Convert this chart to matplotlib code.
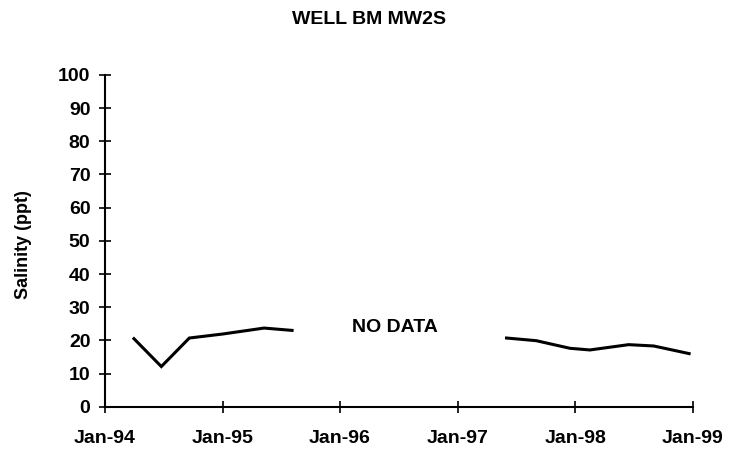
"""
Salinity at well BM MW2S, 1994-1999
"""
import numpy as np
import pandas as pd
import matplotlib
matplotlib.use("Agg")
import matplotlib.pyplot as plt

# ==========================
# dados
# ==========================
dates_a = ["1994-04-01", "1994-06-25", "1994-09-20", "1995-01-01", "1995-05-10", "1995-08-05"]
salinity_a = [20.5, 12.1, 20.7, 21.9, 23.7, 23.0]

dates_b = ["1997-06-01", "1997-09-01", "1997-12-15", "1998-02-15", "1998-06-15", "1998-09-01", "1998-12-20"]
salinity_b = [20.7, 19.9, 17.6, 17.1, 18.7, 18.3, 16.0]

x_ticks = ["1994-01-01", "1995-01-01", "1996-01-01", "1997-01-01", "1998-01-01", "1999-01-01"]
x_labels = ["Jan-94", "Jan-95", "Jan-96", "Jan-97", "Jan-98", "Jan-99"]
y_ticks = list(range(0, 101, 10))

note_date = "1996-06-20"
note_value = 23.8

# ==========================
# plot
# ==========================
plt.rcParams["font.family"] = ["Liberation Sans", "DejaVu Sans"]
plt.rcParams["font.weight"] = "bold"

fig = plt.figure(figsize=(7.31, 4.55), dpi=100)
ax = fig.add_axes([0.1436, 0.1062, 0.8044, 0.729])

ax.plot(pd.to_datetime(dates_a), salinity_a, color="black", lw=2.2, solid_joinstyle="miter")
ax.plot(pd.to_datetime(dates_b), salinity_b, color="black", lw=2.2)

ax.text(pd.to_datetime(note_date), note_value, "NO DATA", ha="center", va="center",
        fontsize=14, fontweight="bold")

ax.set_xlim(pd.to_datetime(x_ticks[0]), pd.to_datetime(x_ticks[-1]))
ax.set_ylim(0, 100)
ax.set_xticks(pd.to_datetime(x_ticks))
ax.set_xticklabels(x_labels, fontweight="bold")
ax.set_yticks(y_ticks)
ax.set_yticklabels([str(v) for v in y_ticks], fontweight="bold")

for s in ["top", "right"]:
    ax.spines[s].set_visible(False)
for s in ["left", "bottom"]:
    ax.spines[s].set_linewidth(1.5)

ax.tick_params(direction="inout", length=9, width=1.2, labelsize=14)
ax.tick_params(axis="y", pad=6)
ax.tick_params(axis="x", pad=12)

ax.set_ylabel("Salinity (ppt)", fontsize=13, fontweight="bold")
ax.yaxis.set_label_coords(-0.124, 0.49)
fig.text(0.505, 0.958, "WELL BM MW2S", ha="center", va="center", fontsize=14, fontweight="bold")

plt.savefig("out.png", dpi=100)
plt.close()
